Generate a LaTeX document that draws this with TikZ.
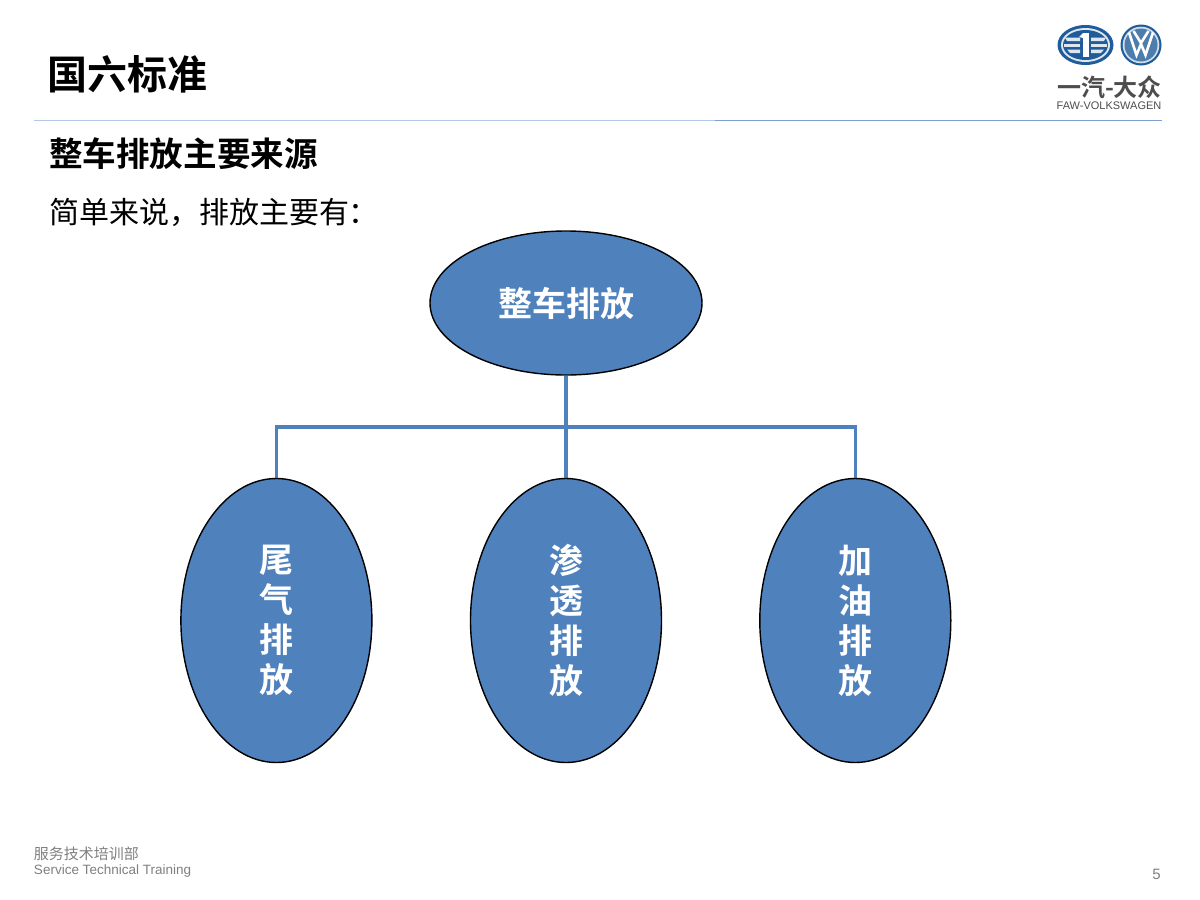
\documentclass[tikz,border=0pt]{standalone}
\usepackage{fontspec}
\setmainfont{Liberation Sans}
\newfontfamily\cjk{Noto Sans CJK SC}
\newfontfamily\cjkb{Noto Sans CJK SC Bold}
\usetikzlibrary{shapes.geometric,calc,backgrounds}
\definecolor{blobfill}{HTML}{4F81BD}
\definecolor{linkblue}{HTML}{4F81BD}
\definecolor{ruleA}{HTML}{B4C7E7}
\definecolor{ruleB}{HTML}{7F9FD0}
\definecolor{greytxt}{HTML}{808080}
\definecolor{logodark}{HTML}{1F5C99}
\definecolor{logotxt}{HTML}{4D4D4D}
\tikzset{
  blob/.style={ellipse,draw=black,line width=1.4pt,fill=blobfill,inner sep=0pt,text=white,align=center,font=\fontsize{34}{40}\cjkb},
  link/.style={draw=linkblue,line width=3.6pt},
  lbl/.style={anchor=west,inner sep=0pt,outer sep=0pt},
}
\begin{document}
\begin{tikzpicture}[x=1pt,y=-1pt]
\useasboundingbox (0,0) rectangle (1200,900);
% header rules
\draw[ruleA,line width=1.1pt] (34,120.5) -- (715,120.5);
\draw[ruleB,line width=1.1pt] (715,120.5) -- (1162,120.5);
% titles
\node[lbl] (title) at (47,74) {\fontsize{40}{40}\cjkb 国六标准};
\node[lbl] (sub) at (49,154) {\fontsize{33.6}{36}\cjkb 整车排放主要来源};
\node[lbl] (intro) at (49,212) {\fontsize{30}{34}\cjk 简单来说，排放主要有：};
% diagram
\node[blob,minimum width=272pt,minimum height=144pt] (top) at (566,303) {整车排放};
\node[blob,minimum width=191pt,minimum height=284pt] (a) at (276.4,620.5) {尾\\气\\排\\放};
\node[blob,minimum width=191pt,minimum height=284pt] (b) at (566,620.5) {渗\\透\\排\\放};
\node[blob,minimum width=191pt,minimum height=284pt] (c) at (855.3,620.5) {加\\油\\排\\放};
\coordinate (bus) at (566,427);
% connectors sit behind the ellipses
\begin{scope}[on background layer]
\fill[white] (0,0) rectangle (1200,900);
\draw[link] (top.south) -- (bus);
\draw[link,line join=miter] (a.north) -- (a.north |- bus) -- (c.north |- bus) -- (c.north);
\draw[link] (bus) -- (b.north);
\end{scope}
% footer
\node[lbl,text=greytxt] (dept) at (34,854) {\fontsize{15}{16}\cjk 服务技术培训部};
\node[lbl,text=greytxt] (eng) at (34,871) {\fontsize{13.5}{16}\selectfont Service Technical Training};
\node[anchor=east,inner sep=0pt,text=greytxt] (pg) at (1161,874) {\fontsize{15}{16}\selectfont 5};
% logo: FAW badge
\fill[logodark] (1085.5,45) ellipse [x radius=28,y radius=20];
\fill[white!85!logodark] (1085.5,45) ellipse [x radius=24.5,y radius=17];
\fill[logodark] (1085.5,45) ellipse [x radius=22.5,y radius=15];
\fill[white!85!logodark] (1065,37.5) -- (1080,37.5) -- (1080,41) -- (1067,41) -- cycle;
\fill[white!85!logodark] (1064,43.5) -- (1080,43.5) -- (1080,47) -- (1064,47) -- cycle;
\fill[white!85!logodark] (1067,49.5) -- (1080,49.5) -- (1080,53) -- (1070,53) -- cycle;
\fill[white!85!logodark] (1106,37.5) -- (1091,37.5) -- (1091,41) -- (1104,41) -- cycle;
\fill[white!85!logodark] (1107,43.5) -- (1091,43.5) -- (1091,47) -- (1107,47) -- cycle;
\fill[white!85!logodark] (1104,49.5) -- (1091,49.5) -- (1091,53) -- (1101,53) -- cycle;
\fill[white] (1083,33) -- (1088.5,33) -- (1088.5,57) -- (1083,57) -- cycle;
\fill[white] (1079,37) -- (1083,33) -- (1083,38) -- cycle;
% logo: VW badge
\fill[logodark] (1141,45) circle [radius=20.5];
\fill[white!80!logodark] (1141,45) circle [radius=18.3];
\fill[logodark!80!white] (1141,45) circle [radius=16.5];
\draw[white,line width=2.6pt,line join=miter] (1129,32.5) -- (1136.5,55) -- (1141,44) -- (1145.5,55) -- (1153,32.5);
\draw[white,line width=2.6pt,line join=miter] (1133.5,31) -- (1141,43) -- (1148.5,31);
\node[inner sep=0pt,text=logotxt] (logocn) at (1109.5,87.5) {\fontsize{24}{26}\cjkb 一汽-大众};
\node[inner sep=0pt,text=logotxt] (logoen) at (1109,106) {\fontsize{11}{12}\selectfont FAW-VOLKSWAGEN};
\end{tikzpicture}
\end{document}
